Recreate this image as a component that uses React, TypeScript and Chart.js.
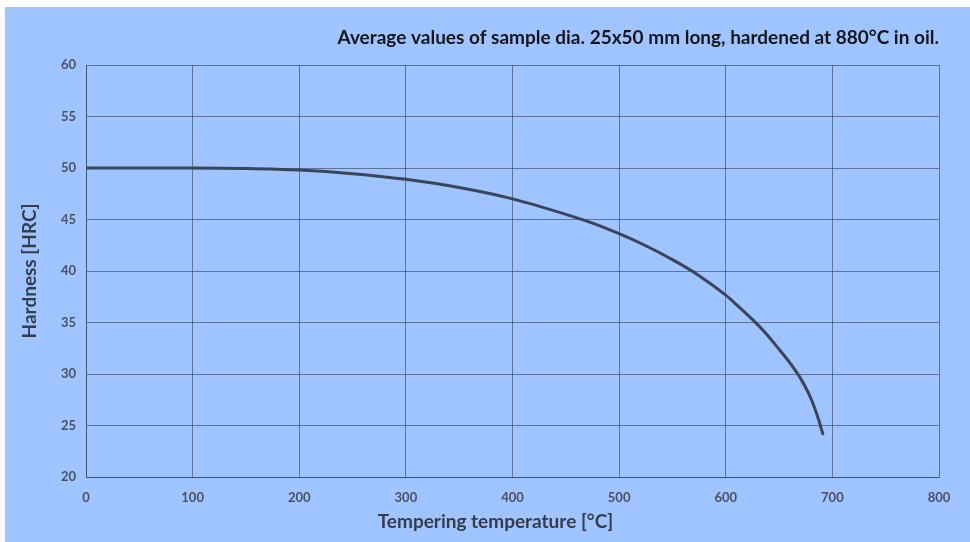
import React, { useEffect, useRef } from "react";
import { Chart, registerables } from "chart.js";

Chart.register(...registerables);

const temperatures = [0, 50, 100, 150, 200, 250, 300, 350, 400, 450, 475, 500, 525, 550, 575, 600, 612.5, 625, 637.5, 650, 660, 670, 680, 687, 691];
const hardness = [50, 50, 50, 49.95, 49.8, 49.45, 48.9, 48.1, 47.0, 45.5, 44.65, 43.62, 42.45, 41.1, 39.55, 37.65, 36.5, 35.3, 33.95, 32.4, 31.1, 29.6, 27.6, 25.6, 24.2];

const titleText = "Average values of sample dia. 25x50 mm long, hardened at 880°C in oil.";
const xTitle = "Tempering temperature [°C]";
const yTitle = "Hardness [HRC]";

const FONT = "Lato, 'Open Sans', sans-serif";

const xTitlePlugin = {
  id: "xTitlePlugin",
  afterDraw(chart: any) {
    const { ctx, chartArea } = chart;
    ctx.save();
    ctx.font = `bold 19px ${FONT}`;
    ctx.fillStyle = "#353c4c";
    ctx.textAlign = "center";
    ctx.textBaseline = "middle";
    const cx = (chartArea.left + chartArea.right) / 2 - 17;
    ctx.fillText(xTitle, cx, chartArea.bottom + 45);
    ctx.restore();
  },
};

export default function App() {
  const canvasRef = useRef<HTMLCanvasElement | null>(null);

  useEffect(() => {
    if (!canvasRef.current) return;
    const gridColor = "rgba(52, 64, 88, 0.62)";
    const chart = new Chart(canvasRef.current, {
      type: "line",
      data: {
        datasets: [
          {
            data: temperatures.map((t, i) => ({ x: t, y: hardness[i] })),
            borderColor: "#3b4559",
            borderWidth: 3,
            pointRadius: 0,
            fill: false,
            cubicInterpolationMode: "monotone",
            borderCapStyle: "round",
            borderJoinStyle: "round",
          },
        ],
      },
      options: {
        responsive: false,
        animation: false,
        layout: { padding: { left: 0, right: 31, top: 0, bottom: 0 } },
        plugins: {
          legend: { display: false },
          tooltip: { enabled: false },
          title: {
            display: true,
            text: titleText,
            align: "end",
            color: "#14161c",
            font: { family: FONT, size: 19, weight: "bold", lineHeight: 1.2 },
            padding: { top: 19.5, bottom: 15.7 },
          },
        },
        scales: {
          x: {
            type: "linear",
            min: 0,
            max: 800,
            ticks: {
              stepSize: 100,
              color: "#4a5163",
              font: { family: FONT, size: 13, weight: "bold" },
              padding: 13,
            },
            grid: { color: gridColor, lineWidth: 1, drawTicks: false },
            border: { color: gridColor, width: 1 },
            title: { display: false },
            afterFit: (scale: any) => {
              scale.height = 65;
            },
          },
          y: {
            min: 20,
            max: 60,
            ticks: {
              stepSize: 5,
              color: "#4a5163",
              font: { family: FONT, size: 13, weight: "bold" },
              padding: 10,
            },
            grid: { color: gridColor, lineWidth: 1, drawTicks: false },
            border: { color: gridColor, width: 1 },
            title: {
              display: true,
              text: yTitle,
              color: "#353c4c",
              font: { family: FONT, size: 19, weight: "bold", lineHeight: 1.2 },
              padding: { top: 13.6, bottom: 4 },
            },
            afterFit: (scale: any) => {
              scale.width = 81;
            },
          },
        },
      },
      plugins: [xTitlePlugin],
    });
    return () => chart.destroy();
  }, []);

  return (
    <div
      style={{
        position: "absolute",
        left: 5,
        top: 7,
        width: 965,
        height: 535,
        background: "#a0c4ff",
      }}
    >
      <canvas ref={canvasRef} width={965} height={535} style={{ display: "block" }} />
    </div>
  );
}
